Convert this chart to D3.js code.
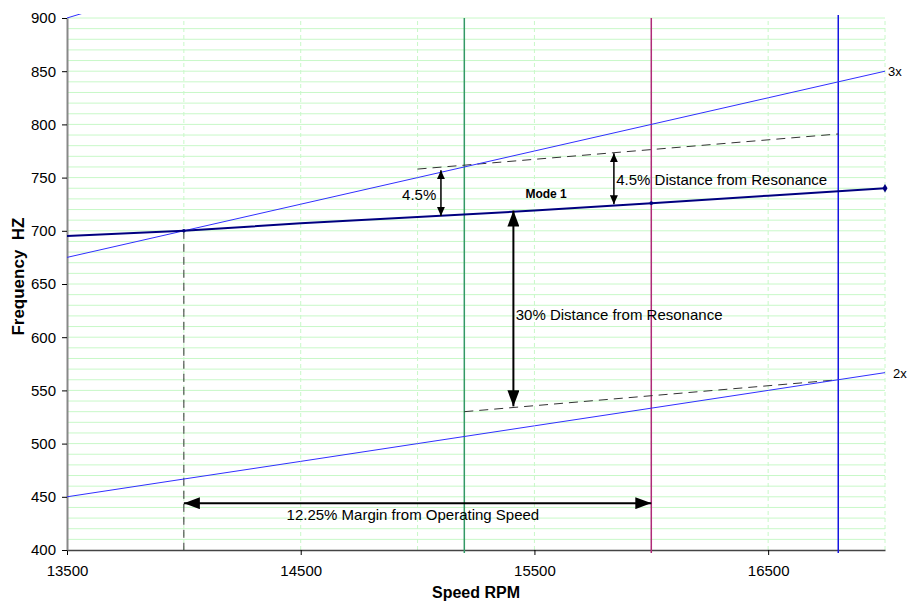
<!DOCTYPE html>
<html>
<head>
<meta charset="utf-8">
<script src="https://cdn.jsdelivr.net/npm/d3@7"></script>
<style>
  body { margin: 0; background: #fff; }
  text { font-family: "Liberation Sans", Arial, sans-serif; }
</style>
</head>
<body>
<div class="vis-chart"></div>
<script>
// speeds (rpm) used for the lines
var speeds = [13500, 14000, 14500, 15000, 15500, 16000, 16500, 17000];
var mode1 = [695, 700, 707, 713, 719, 726, 733, 740];
var order2x = [450, 466.7, 483.3, 500, 516.7, 533.3, 550, 566.7];
var order3x = [675, 700, 725, 750, 775, 800, 825, 850];
var order4x = [900, 933.3];
var order4xSpeeds = [13500, 14000];

// dashed margin lines
var upperDashSpeeds = [15000, 16800];
var upperDashHz = [758, 791];
var lowerDashSpeeds = [15200, 16800];
var lowerDashHz = [530, 560];

// operating speed markers
var markerSpeeds = [15200, 16000, 16800];
var markerColors = ["#339966", "#b02a78", "#1515e0"];

var xTickLabels = [13500, 14500, 15500, 16500];
var yTickLabels = [400, 450, 500, 550, 600, 650, 700, 750, 800, 850, 900];

var margin = {top: 18, right: 24, bottom: 53, left: 67},
    W = 909, H = 603,
    width = W - margin.left - margin.right,
    height = H - margin.top - margin.bottom;

var svg = d3.select('.vis-chart').append('svg')
    .attr('width', W).attr('height', H);

var x = d3.scaleLinear().domain([13500, 17000]).range([margin.left, margin.left + width]);
var y = d3.scaleLinear().domain([400, 900]).range([margin.top + height, margin.top]);

var defs = svg.append('defs');
defs.append('clipPath').attr('id', 'clip')
  .append('rect').attr('x', x(13500)).attr('y', y(900) - 4)
  .attr('width', width).attr('height', height + 4);

function arrowMarker(id, len, wid) {
  defs.append('marker').attr('id', id)
    .attr('viewBox', '0 0 ' + len + ' ' + wid)
    .attr('refX', len).attr('refY', wid / 2)
    .attr('markerWidth', len).attr('markerHeight', wid)
    .attr('markerUnits', 'userSpaceOnUse')
    .attr('orient', 'auto-start-reverse')
    .append('path').attr('d', 'M0,0L' + len + ',' + wid / 2 + 'L0,' + wid + 'Z').attr('fill', '#000');
}
arrowMarker('arrSmall', 9, 8);
arrowMarker('arrBig', 16, 12);

// gridlines
var grid = svg.append('g');
grid.selectAll('.hg').data(d3.range(410, 901, 10)).enter().append('line')
  .attr('x1', x(13500)).attr('x2', x(17000))
  .attr('y1', d => y(d)).attr('y2', d => y(d))
  .attr('stroke', '#c8f8c8').attr('stroke-width', 1);
grid.selectAll('.vg').data(d3.range(14000, 17001, 500)).enter().append('line')
  .attr('x1', d => x(d)).attr('x2', d => x(d))
  .attr('y1', y(400)).attr('y2', y(900))
  .attr('stroke', '#c8f8c8').attr('stroke-dasharray', '4,3');

// axes
svg.append('g').attr('transform', 'translate(0,' + y(400) + ')')
  .call(d3.axisBottom(x).tickValues(xTickLabels).tickSize(5).tickSizeOuter(0).tickFormat(d3.format('d')).tickPadding(10))
  .call(g => g.select('.domain').attr('stroke', '#444').attr('stroke-width', 1.5))
  .call(g => g.selectAll('text').attr('font-size', 15).attr('fill', '#000'));
svg.append('g').attr('transform', 'translate(' + x(13500) + ',0)')
  .call(d3.axisLeft(y).tickValues(yTickLabels).tickSize(5).tickSizeOuter(0).tickPadding(6))
  .call(g => g.select('.domain').attr('stroke', '#888').attr('stroke-width', 2))
  .call(g => g.selectAll('text').attr('font-size', 15).attr('fill', '#000'));

// axis titles
svg.append('text').attr('x', x(15250)).attr('y', 598)
  .attr('text-anchor', 'middle').attr('font-weight', 'bold').attr('font-size', 16)
  .text('Speed RPM');
svg.append('text').attr('transform', 'translate(24,' + y(657) + ') rotate(-90)')
  .attr('text-anchor', 'middle').attr('font-weight', 'bold').attr('font-size', 17)
  .attr('xml:space', 'preserve')
  .text('Frequency  HZ');

// operating speed vertical lines
svg.selectAll('.vline').data(markerSpeeds).enter().append('line')
  .attr('x1', d => x(d)).attr('x2', d => x(d))
  .attr('y1', (d, i) => i === 2 ? y(900) - 3 : y(900)).attr('y2', y(400) + 3)
  .attr('stroke', (d, i) => markerColors[i]).attr('stroke-width', 1.5);

var line = d3.line().x(d => x(d[0])).y(d => y(d[1]));
var plot = svg.append('g').attr('clip-path', 'url(#clip)');

// dashed lines
plot.append('path').attr('d', line(d3.zip(upperDashSpeeds, upperDashHz)))
  .attr('fill', 'none').attr('stroke', '#333').attr('stroke-dasharray', '9,6');
plot.append('path').attr('d', line(d3.zip(lowerDashSpeeds, lowerDashHz)))
  .attr('fill', 'none').attr('stroke', '#333').attr('stroke-dasharray', '9,6');
plot.append('line')
  .attr('x1', x(14000)).attr('x2', x(14000)).attr('y1', y(700)).attr('y2', y(400))
  .attr('stroke', '#333').attr('stroke-dasharray', '8,5');

// order lines
[order2x, order3x].forEach(function (s) {
  plot.append('path').attr('d', line(d3.zip(speeds, s)))
    .attr('fill', 'none').attr('stroke', '#3030ff').attr('stroke-width', 1);
});
plot.append('path').attr('d', line(d3.zip(order4xSpeeds, order4x)))
  .attr('fill', 'none').attr('stroke', '#3030ff').attr('stroke-width', 1);

// mode 1
plot.append('path').attr('d', line(d3.zip(speeds, mode1)))
  .attr('fill', 'none').attr('stroke', '#000080').attr('stroke-width', 2);
svg.selectAll('.m1pt').data([1, 5]).enter().append('circle')
  .attr('cx', i => x(speeds[i])).attr('cy', i => y(mode1[i])).attr('r', 1.8).attr('fill', '#000080');
svg.append('path').attr('d', d3.symbol(d3.symbolDiamond, 22)())
  .attr('transform', 'translate(' + x(17000) + ',' + y(740) + ')').attr('fill', '#000080');

// labels
svg.append('text').attr('x', x(17000) + 3).attr('y', y(850) + 5).attr('font-size', 13).text('3x');
svg.append('text').attr('x', x(17000) + 8).attr('y', y(566.7) + 5).attr('font-size', 13).text('2x');
svg.append('text').attr('x', x(15550)).attr('y', y(735) + 4).attr('text-anchor', 'middle')
  .attr('font-size', 12).attr('font-weight', 'bold').text('Mode 1');

// annotation arrows (data coords)
var arrows = [
  {x1: 15100, y1: 757, x2: 15100, y2: 714, m: 'arrSmall'},
  {x1: 15840, y1: 773, x2: 15840, y2: 725, m: 'arrSmall'},
  {x1: 15410, y1: 719, x2: 15410, y2: 535, m: 'arrBig'},
  {x1: 14000, y1: 444, x2: 16000, y2: 444, m: 'arrBig'}
];
svg.selectAll('.ann').data(arrows).enter().append('line')
  .attr('x1', d => x(d.x1)).attr('y1', d => y(d.y1))
  .attr('x2', d => x(d.x2)).attr('y2', d => y(d.y2))
  .attr('stroke', '#000').attr('stroke-width', d => d.m === 'arrBig' ? 2 : 1.5)
  .attr('marker-start', d => 'url(#' + d.m + ')')
  .attr('marker-end', d => 'url(#' + d.m + ')');

var notes = [
  {x: 15080, y: 734, t: '4.5%', a: 'end'},
  {x: 15850, y: 748, t: '4.5% Distance from Resonance', a: 'start'},
  {x: 15420, y: 621, t: '30% Distance from Resonance', a: 'start'},
  {x: 14980, y: 433, t: '12.25% Margin from Operating Speed', a: 'middle'}
];
svg.selectAll('.note').data(notes).enter().append('text')
  .attr('x', d => x(d.x)).attr('y', d => y(d.y) + 5)
  .attr('text-anchor', d => d.a).attr('font-size', 15).text(d => d.t);
</script>
</body>
</html>
